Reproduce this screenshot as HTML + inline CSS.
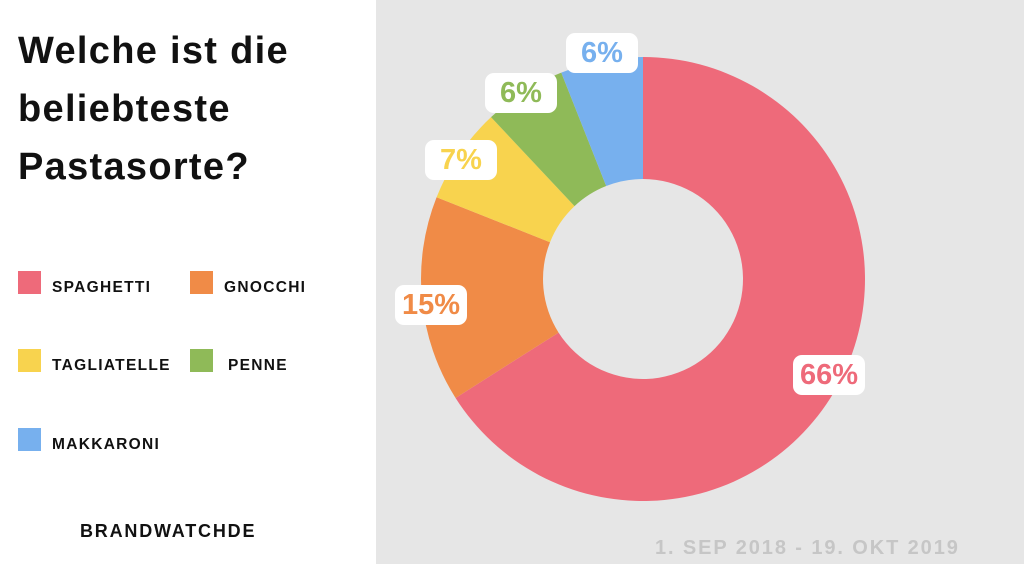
<!DOCTYPE html>
<html><head><style>
body{margin:0;width:1024px;height:564px;position:relative;overflow:hidden;background:#fff;font-family:"Liberation Sans",sans-serif;}
.right{position:absolute;left:376px;top:0;width:648px;height:564px;background:#e6e6e6;}
h1{position:absolute;left:18px;top:22px;margin:0;font-size:38px;line-height:58px;font-weight:bold;color:#111;letter-spacing:1.3px}
.sq{position:absolute;width:23px;height:23px}
.lt{position:absolute;font-size:15.5px;font-weight:bold;letter-spacing:1.3px;color:#111}
.lab{position:absolute;background:#fff;border-radius:9px;font-size:29px;font-weight:bold;text-align:center;height:40px;line-height:40px;width:72px}
</style></head><body>
<div class="right"></div>
<h1>Welche ist die<br>beliebteste<br>Pastasorte?</h1>
<div class="sq" style="left:18px;top:271px;background:#ee6a7a"></div><div class="lt" style="left:52px;top:279px">SPAGHETTI</div>
<div class="sq" style="left:190px;top:271px;background:#f08b47"></div><div class="lt" style="left:224px;top:279px">GNOCCHI</div>
<div class="sq" style="left:18px;top:349px;background:#f8d34e"></div><div class="lt" style="left:52px;top:357px">TAGLIATELLE</div>
<div class="sq" style="left:190px;top:349px;background:#8fba58"></div><div class="lt" style="left:228px;top:357px">PENNE</div>
<div class="sq" style="left:18px;top:428px;background:#77b0ee"></div><div class="lt" style="left:52px;top:436px">MAKKARONI</div>
<div class="lt" style="left:80px;top:521px;font-size:18px;letter-spacing:1.8px">BRANDWATCHDE</div>
<div style="position:absolute;left:655px;top:537px;font-size:20px;font-weight:bold;color:#c6c6c6;letter-spacing:1.9px">1. SEP 2018 - 19. OKT 2019</div>
<svg width="1024" height="564" style="position:absolute;left:0;top:0">
<g id="d"></g>
</svg>
<div class="lab" style="left:566px;top:33px;color:#77b0ee">6%</div>
<div class="lab" style="left:485px;top:73px;color:#8fba58">6%</div>
<div class="lab" style="left:425px;top:140px;color:#f8d34e">7%</div>
<div class="lab" style="left:395px;top:285px;color:#f08b47">15%</div>
<div class="lab" style="left:793px;top:355px;color:#ee6a7a">66%</div>
<script>
var cx=643,cy=279,R=222,r=100,v=[66,15,7,6,6],c=["#ee6a7a","#f08b47","#f8d34e","#8fba58","#77b0ee"],a=0,s="";
function p(rad,ang){var t=(ang/100)*2*Math.PI;return [cx+rad*Math.sin(t),cy-rad*Math.cos(t)];}
v.forEach(function(x,i){var b=a+x,l=x>50?1:0,A=p(R,a),B=p(R,b),C=p(r,b),D=p(r,a);
s+='<path fill="'+c[i]+'" d="M'+A+' A'+R+' '+R+' 0 '+l+' 1 '+B+' L'+C+' A'+r+' '+r+' 0 '+l+' 0 '+D+'Z"/>';a=b;});
document.getElementById("d").innerHTML=s;
</script>
</body></html>
